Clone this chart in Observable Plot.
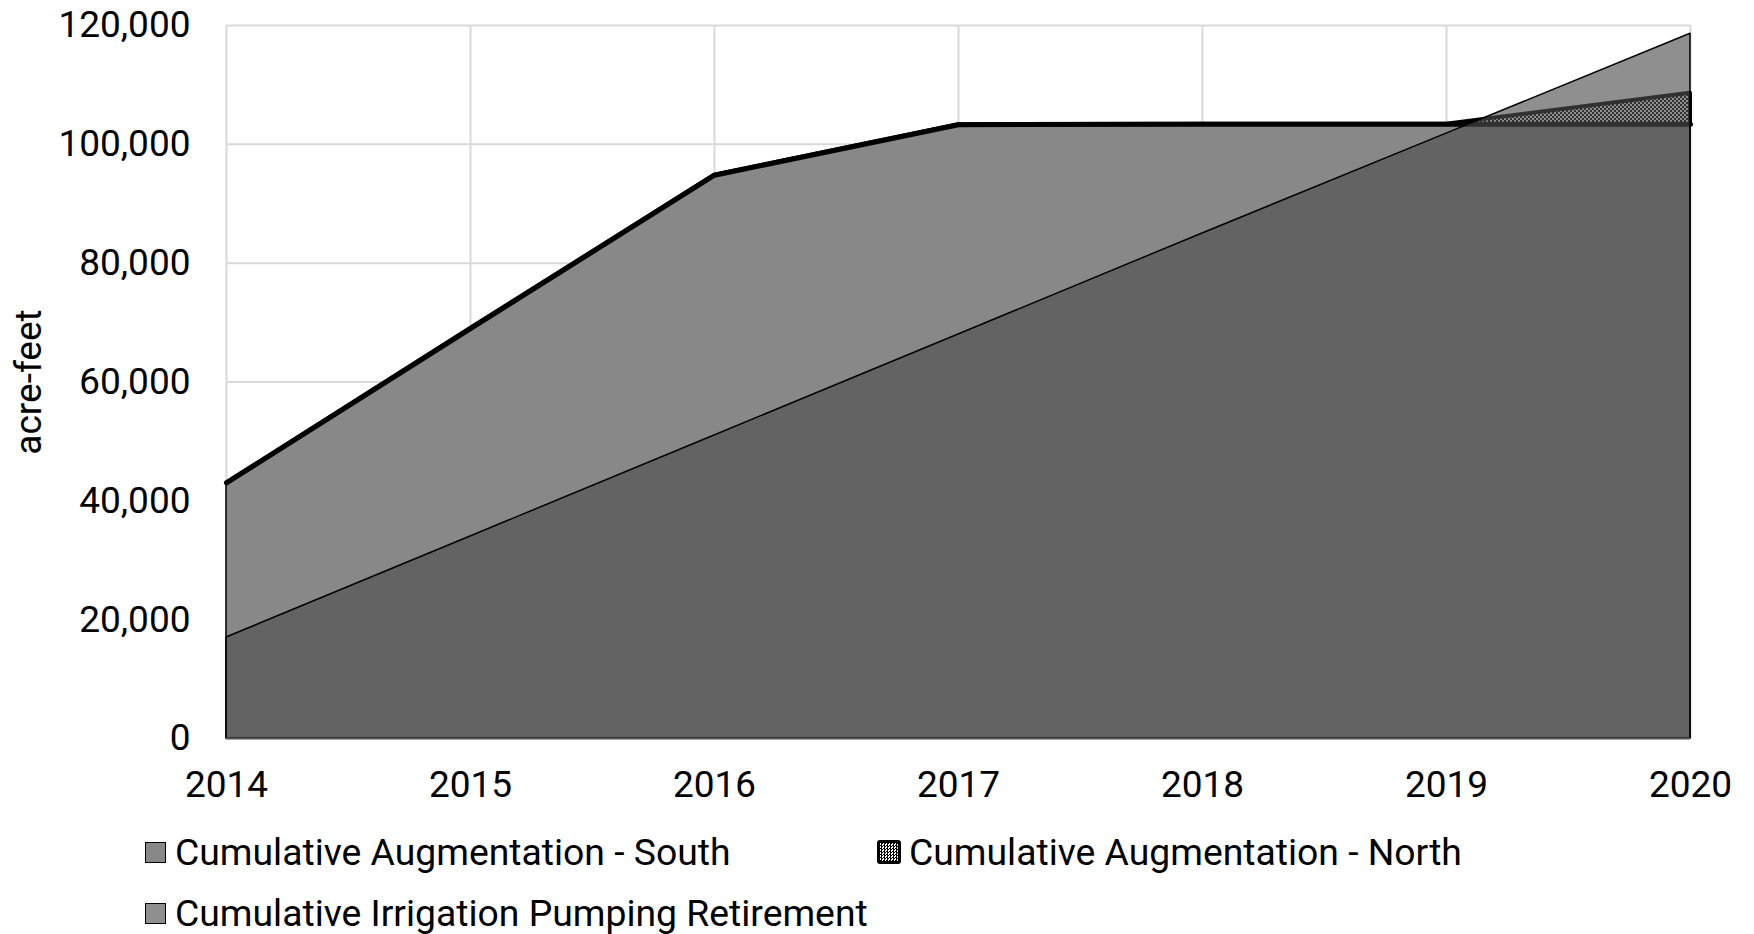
<!DOCTYPE html>
<html><head><meta charset="utf-8">
<script src="https://cdn.jsdelivr.net/npm/d3@7"></script>
<script src="https://cdn.jsdelivr.net/npm/@observablehq/plot@0.6"></script>
<style>
body{margin:0;background:#fff;font-family:Roboto,sans-serif;}
#wrap{position:relative;width:1754px;height:934px;overflow:hidden;}
#wrap svg{display:block;}
.leg{position:absolute;display:flex;align-items:center;font-size:37.3px;line-height:37px;height:37px;color:#000;white-space:nowrap;font-family:Roboto,sans-serif;}
.sw{width:19px;height:19px;border:1px solid #000;margin-right:9px;flex:none;}
.sw.hatch{width:18px;height:18px;border:3px solid #000;border-radius:3px;background:repeating-conic-gradient(#000 0 25%, #fff 0 50%) 0 0/3px 3px;margin-right:8px;}
</style></head><body><div id="wrap"></div>
<script>
// ---- data ----
const years = [2014, 2015, 2016, 2017, 2018, 2019, 2020];
const augSouth = [43000, 69000, 94800, 103300, 103400, 103400, 103400];
const augNorth = [0, 0, 0, 0, 0, 0, 5200];
const pumpRetirement = [17000, 34000, 51000, 68000, 85000, 101800, 118600];
const yTicks = [0, 20000, 40000, 60000, 80000, 100000, 120000];
const seriesNames = ["Cumulative Augmentation - South", "Cumulative Augmentation - North", "Cumulative Irrigation Pumping Retirement"];
const yLabel = "acre-feet";

const data = years.map((year, i) => ({year, south: augSouth[i], north: augNorth[i], retire: pumpRetirement[i]}));

const H = 810;
const chart = Plot.plot({
  width: 1754, height: H,
  marginLeft: 226, marginRight: 64, marginTop: 25, marginBottom: H - 738,
  style: {fontFamily: "Roboto", fontSize: "37px", color: "#000", background: "#fff", overflow: "visible"},
  x: {domain: [2014, 2020], ticks: years, tickFormat: d => String(d), tickSize: 0, tickPadding: 32, label: null},
  y: {domain: [0, 120000], ticks: yTicks, tickFormat: d => d.toLocaleString("en-US"), tickSize: 0, tickPadding: 36, label: null},
  marks: [
    Plot.ruleY(yTicks, {stroke: "#d9d9d9", strokeWidth: 2}),
    Plot.ruleX(years, {stroke: "#d9d9d9", strokeWidth: 2}),
    Plot.areaY(data, {x: "year", y1: 0, y2: "south", fill: "#888888", stroke: "#000", strokeWidth: 1.5}),
    Plot.lineY(data, {x: "year", y: "south", stroke: "#000", strokeWidth: 5}),
    Plot.areaY(data, {x: "year", y1: "south", y2: d => d.south + d.north, fill: "url(#hatch)", stroke: "#000", strokeWidth: 4, strokeLinejoin: "round"}),
    Plot.areaY(data, {x: "year", y1: 0, y2: "retire", fill: "rgb(77,77,77)", fillOpacity: 0.63, stroke: "#000", strokeWidth: 1.5}),
    Plot.ruleY([0], {stroke: "#595959", strokeWidth: 2}),
    Plot.text([yLabel], {text: d => d, frameAnchor: "left", textAnchor: "middle", rotate: -90, dx: -197, fontSize: 37, fill: "#000"})
  ]
});

// hatch pattern for the North series
const svg = d3.select(chart);
const defs = svg.insert("defs", ":first-child");
const pat = defs.append("pattern").attr("id", "hatch").attr("patternUnits", "userSpaceOnUse").attr("width", 4).attr("height", 4);
pat.append("rect").attr("width", 4).attr("height", 4).attr("fill", "#fff");
pat.append("rect").attr("width", 2).attr("height", 2).attr("fill", "#000");
pat.append("rect").attr("x", 2).attr("y", 2).attr("width", 2).attr("height", 2).attr("fill", "#000");

const wrap = document.getElementById("wrap");
wrap.appendChild(chart);

// legend
const legendItems = [
  {name: seriesNames[0], cls: "", bg: "#888888", left: 145, top: 833.5},
  {name: seriesNames[1], cls: "hatch", bg: null, left: 877, top: 833.5},
  {name: seriesNames[2], cls: "", bg: "#8f8f8f", left: 145, top: 894.5}
];
for (const it of legendItems) {
  const d = document.createElement("div");
  d.className = "leg";
  d.style.left = it.left + "px";
  d.style.top = it.top + "px";
  const s = document.createElement("div");
  s.className = "sw " + it.cls;
  if (it.bg) s.style.background = it.bg;
  const t = document.createElement("span");
  t.textContent = it.name;
  d.appendChild(s); d.appendChild(t);
  wrap.appendChild(d);
}
</script>
</body></html>
